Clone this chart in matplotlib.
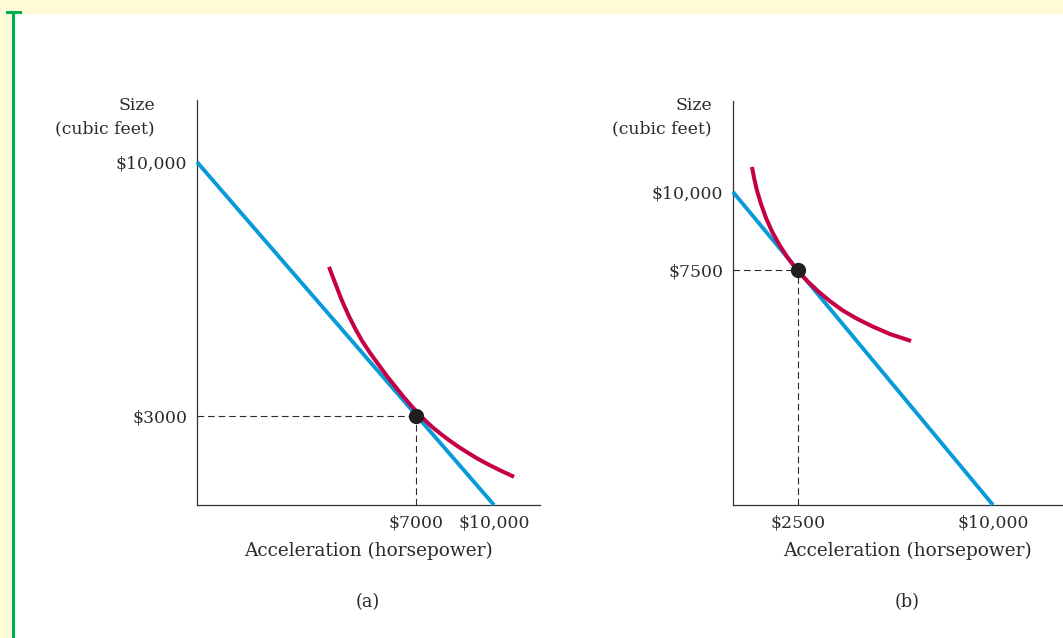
import numpy as np
import matplotlib.pyplot as plt
from matplotlib.lines import Line2D
from matplotlib.patches import Rectangle

plt.rcParams['font.family'] = ['DejaVu Serif']

# budget line: x and y intercepts (same in both panels)
budget_x = [0, 10000]
budget_y = [10000, 0]

# panel (a): chosen bundle, indifference curve, ticks
choice_a = [7000, 3000]
curve_a_x = [4220, 4350, 4480, 4600, 4730, 4890, 5050, 5270, 5530, 5790, 6070, 6330, 6580,
             6810, 7080, 7390, 7650, 7960, 8310, 8620, 8960, 9350, 9730, 10230, 10770]
curve_a_y = [7110, 6810, 6520, 6250, 5990, 5690, 5420, 5080, 4740, 4430, 4100, 3820, 3550,
             3320, 3070, 2820, 2610, 2390, 2160, 1970, 1780, 1570, 1390, 1170, 950]
xticks_a = [7000, 10000]
xlabels_a = ['$7000', '$10,000']
yticks_a = [3000, 10000]
ylabels_a = ['$3000', '$10,000']

# panel (b)
choice_b = [2500, 7500]
curve_b_x = [730, 810, 920, 1080, 1270, 1500, 1770, 2080, 2460, 2850, 3270, 3730, 4230,
             4770, 5350, 6040, 6850]
curve_b_y = [10800, 10450, 10050, 9610, 9170, 8740, 8330, 7930, 7510, 7160, 6830, 6510, 6210,
             5950, 5710, 5460, 5240]
xticks_b = [2500, 10000]
xlabels_b = ['$2500', '$10,000']
yticks_b = [7500, 10000]
ylabels_b = ['$7500', '$10,000']

BLUE = '#089BD9'
RED = '#C60047'
INK = '#2b2b2b'
FS = 12.4
W, H = 1063, 638


def piecewise(vals, lens):
    # panel (a) is not drawn to scale, so stretch the axis between the ticks
    fwd = lambda v: np.interp(v, vals, lens)
    inv = lambda u: np.interp(u, lens, vals)
    return fwd, inv


def draw_panel(ax, choice, cx, cy, xt, xl, yt, yl):
    ax.plot(budget_x, budget_y, color=BLUE, lw=2.8, solid_capstyle='butt', zorder=3, clip_on=False)
    ax.plot(cx, cy, color=RED, lw=2.9, solid_capstyle='butt', solid_joinstyle='round', zorder=4)
    ax.plot([0, choice[0]], [choice[1], choice[1]], color=INK, lw=0.8, dashes=(6, 3.5), zorder=2)
    ax.plot([choice[0], choice[0]], [0, choice[1]], color=INK, lw=0.8, dashes=(6, 3.5), zorder=2)
    ax.plot(choice[0], choice[1], 'o', color='#231F20', ms=10, zorder=5)
    for s in ['top', 'right']:
        ax.spines[s].set_visible(False)
    for s in ['left', 'bottom']:
        ax.spines[s].set_color('#333333')
        ax.spines[s].set_linewidth(0.9)
    ax.set_xticks(xt)
    ax.set_xticklabels(xl)
    ax.set_yticks(yt)
    ax.set_yticklabels(yl)
    ax.tick_params(length=0, pad=7, labelsize=FS, colors=INK)
    ax.set_facecolor('none')


fig = plt.figure(figsize=(W / 100, H / 100), dpi=100)

# page decoration
fig.add_artist(Rectangle((0, 1 - 13 / H), 1, 13 / H, transform=fig.transFigure, color='#FFFBD6', zorder=0))
fig.add_artist(Rectangle((0, 0), 11.5 / W, 1, transform=fig.transFigure, color='#FFFBD6', zorder=0))
fig.add_artist(Line2D([13.3 / W, 13.3 / W], [0, 1 - 12.3 / H], transform=fig.transFigure, color='#00AE4F', lw=2.2))
fig.add_artist(Line2D([7 / W, 19.5 / W], [1 - 12.3 / H, 1 - 12.3 / H], transform=fig.transFigure, color='#00AE4F', lw=2.2))

ax_a = fig.add_axes([197 / W, 133 / H, 343 / W, 405 / H])
ax_a.set_xscale('function', functions=piecewise([-1e5, 0, 7000, 10000, 1e5], [-3128.6, 0, 219, 297, 2637]))
ax_a.set_yscale('function', functions=piecewise([-1e5, 0, 3000, 10000, 1e5], [-2966.7, 0, 89, 343, 3608.7]))
draw_panel(ax_a, choice_a, curve_a_x, curve_a_y, xticks_a, xlabels_a, yticks_a, ylabels_a)
ax_a.set_xlim(0, 11769)
ax_a.set_ylim(0, 11709)

ax_b = fig.add_axes([733 / W, 133 / H, 330 / W, 404 / H])
draw_panel(ax_b, choice_b, curve_b_x, curve_b_y, xticks_b, xlabels_b, yticks_b, ylabels_b)
ax_b.set_xlim(0, 12692)
ax_b.set_ylim(0, 12907)

# axis titles and panel letters
for xr, xc in [(155, 368), (712, 907)]:
    fig.text(xr / W, 1 - 117 / H, 'Size\n(cubic feet)', ha='right', va='center',
             multialignment='right', linespacing=1.45, fontsize=FS, color=INK)
    fig.text(xc / W, 1 - 551 / H, 'Acceleration (horsepower)', ha='center', va='center',
             fontsize=13.3, color=INK)
fig.text(368 / W, 1 - 602 / H, '(a)', ha='center', va='center', fontsize=12.8, color=INK)
fig.text(907 / W, 1 - 602 / H, '(b)', ha='center', va='center', fontsize=12.8, color=INK)

fig.savefig('out.png', dpi=100, facecolor='white')
